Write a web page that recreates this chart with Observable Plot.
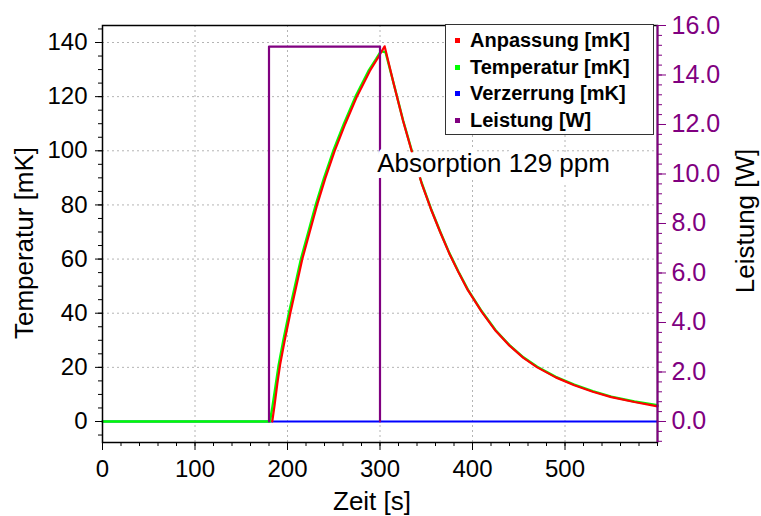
<!DOCTYPE html>
<html><head><meta charset="utf-8">
<script src="https://cdn.jsdelivr.net/npm/d3@7"></script>
<script src="https://cdn.jsdelivr.net/npm/@observablehq/plot@0.6"></script>
<style>
body{margin:0;background:#fff;}
#chart{position:relative;width:761px;height:516px;font-family:"Liberation Sans",Arial,sans-serif;}
#chart svg{position:absolute;left:0;top:0;}
#legend{position:absolute;left:445px;top:24px;width:209px;height:111px;background:#fff;border:1px solid #333;box-sizing:border-box;padding-top:2px;}
#legend .row{position:relative;height:26.7px;line-height:26.7px;font-weight:bold;font-size:20px;color:#000;padding-left:24px;white-space:nowrap;}
#legend .sw{position:absolute;left:9px;top:11px;width:5px;height:5px;}
</style></head><body><div id="chart"><div id="legend"></div></div><script>
// ---- data ----
const fitT   = [183.5,186,189,192,197,203,209.5,216,224,232,241,251,262.5,275,289,298,305,315,325,335,345,355,365,375,385,395,410,425,440,455,470,490,510,530,550,575,600];
const fitV   = [0,6,14,21,30,40,50,60,70,80,90,100,110,120,129.5,134.5,138.6,124.5,111,99,88,78.5,70,62,55,48.5,40.5,33.5,28,23.5,20,16.3,13.4,11,9,7.2,5.6];
const tempT  = [0,181,183.5,187,190.5,195.5,201.5,208,214.5,222.5,230.5,239.5,249.5,261,273.5,287.5,296,301,306,315,325,335,345,355,365,375,385,395,410,425,440,455,470,490,510,530,550,575,600];
const tempV  = [0,0,5,13,21,30,40,50,60,70,80,90,100,110,120,129.5,134,136.8,136.4,124.6,111.2,99.2,88.2,78.7,70.2,62.2,55.2,48.7,40.7,33.7,28.2,23.7,20.2,16.5,13.6,11.2,9.2,7.4,6.0];
const verzT  = [0,600];
const verzV  = [0,0];
const powT   = [180,180,300,300];
const powV   = [0,15.15,15.15,0];
const annotations = [{t:297,T:95.1,label:"Absorption 129 ppm"}];

const xDomain = [0,600];
const tempDomain = [-7.757,146.28];
const powDomain = [-0.8485,16];
const xMajor = [0,100,200,300,400,500];
const xMinor = d3.range(0,601,20);
const yMajor = [0,20,40,60,80,100,120,140];
const yMinor = d3.range(-5,146,5);
const pMajor = [0,2,4,6,8,10,12,14,16];
const pMinor = d3.range(-4,81,2).map(d=>d/5);
const xGrid = [100,200,300,400,500];
const yGrid = [20,40,60,80,100,120,140];

const seriesNames = ["Anpassung [mK]","Temperatur [mK]","Verzerrung [mK]","Leistung [W]"];
const seriesColors = ["#ff0000","#00ff00","#0000ff","#800080"];

const zip = (ts, vs, k) => ts.map((t,i)=>({t, [k]: vs[i]}));
const fit = zip(fitT, fitV, "v");
const temp = zip(tempT, tempV, "v");
const verz = zip(verzT, verzV, "v");
const pow = zip(powT, powV, "p");

const W=761,H=516,mL=102,mR=104,mT=25,mB=74;
const font = "'Liberation Sans', Arial, sans-serif";
const purple = "#800080";
const common = {width:W,height:H,marginLeft:mL,marginRight:mR,marginTop:mT,marginBottom:mB};

const base = Plot.plot({...common,
  x:{domain:xDomain,label:null},
  y:{domain:tempDomain,label:null},
  style:{fontFamily:font,fontSize:"24px",color:"black",background:"white",overflow:"visible"},
  marks:[
    Plot.gridX(xGrid,{stroke:"#b4b4b4",strokeOpacity:1,strokeDasharray:"2,3"}),
    Plot.gridY(yGrid,{stroke:"#b4b4b4",strokeOpacity:1,strokeDasharray:"2,3"}),
    Plot.line(verz,{x:"t",y:"v",stroke:seriesColors[2],strokeWidth:2.2}),
    Plot.line(temp,{x:"t",y:"v",stroke:seriesColors[1],strokeWidth:2.4}),
    Plot.line(fit,{x:"t",y:"v",stroke:seriesColors[0],strokeWidth:2.2}),
    Plot.frame({stroke:"black",strokeWidth:1.5}),
    Plot.axisX(xMinor,{tickSize:4,tickFormat:()=>"",label:null}),
    Plot.axisX(xMajor,{tickSize:8,tickPadding:9,fontSize:24,label:null}),
    Plot.axisY(yMinor,{tickSize:4,tickFormat:()=>"",label:null}),
    Plot.axisY(yMajor,{tickSize:7,tickPadding:8,fontSize:24,label:null}),
    Plot.text(["Temperatur [mK]"],{frameAnchor:"left",textAnchor:"middle",lineAnchor:"middle",dx:-78,dy:9,rotate:-90,fontSize:26,fill:"black"}),
    Plot.text(["Zeit [s]"],{frameAnchor:"bottom",textAnchor:"middle",lineAnchor:"middle",dx:-8,dy:59,fontSize:26,fill:"black"})
  ]});

const power = Plot.plot({...common,
  x:{domain:xDomain,label:null,axis:null},
  y:{domain:powDomain,label:null},
  style:{fontFamily:font,fontSize:"24px",color:purple,background:"transparent",overflow:"visible"},
  marks:[
    Plot.line(pow,{x:"t",y:"p",stroke:seriesColors[3],strokeWidth:2.2}),
    Plot.ruleX([xDomain[1]],{stroke:purple,strokeWidth:2}),
    Plot.axisY(pMinor,{anchor:"right",tickSize:4,tickFormat:()=>"",label:null}),
    Plot.axisY(pMajor,{anchor:"right",tickSize:8,tickPadding:6,tickFormat:d=>d.toFixed(1),fontSize:25,label:null}),
    Plot.text(["Leistung [W]"],{frameAnchor:"right",textAnchor:"middle",lineAnchor:"middle",dx:88,dy:-13,rotate:-90,fontSize:26,fill:"black"})
  ]});

const annot = Plot.plot({...common,
  x:{domain:xDomain,axis:null},
  y:{domain:tempDomain,axis:null},
  style:{fontFamily:font,fontSize:"24px",background:"transparent",overflow:"visible"},
  marks:[
    Plot.text(annotations,{x:"t",y:"T",text:"label",textAnchor:"start",fontSize:26,fill:"black",stroke:"white",strokeWidth:12,paintOrder:"stroke"})
  ]});

const chart = document.getElementById("chart");
const legend = document.getElementById("legend");
chart.insertBefore(base, legend);
chart.insertBefore(power, legend);
chart.insertBefore(annot, legend);
seriesNames.forEach((n,i)=>{
  const row = document.createElement("div");
  row.className="row";
  row.innerHTML = `<span class="sw" style="background:${seriesColors[i]}"></span>${n}`;
  legend.appendChild(row);
});
</script></body></html>
